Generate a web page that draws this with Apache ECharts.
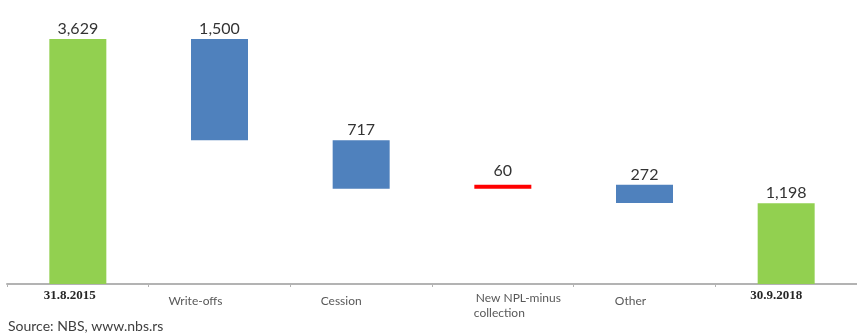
<!DOCTYPE html>
<html>
<head>
<meta charset="utf-8">
<script src="https://cdn.jsdelivr.net/npm/echarts@6/dist/echarts.min.js"></script>
<style>
  html, body { margin: 0; padding: 0; background: #fff; }
  #chart { width: 857px; height: 335px; }
</style>
</head>
<body>
<div id="chart"></div>
<script>
// NPL stock bridge, RSD bn
const categories = ['31.8.2015', 'Write-offs', 'Cession', 'New NPL-minus collection', 'Other', '30.9.2018'];
const changes = [3629, -1500, -717, 60, -272, 1198];
const kinds = ['total', 'decrease', 'decrease', 'increase', 'decrease', 'total'];
const sourceNote = 'Source: NBS, www.nbs.rs';

const colors = { total: '#92d050', decrease: '#4f81bd', increase: '#ff0000' };

// invisible base + visible step, built as a running total
const baseData = [];
const stepData = [];
let running = 0;
changes.forEach((v, i) => {
  const kind = kinds[i];
  if (kind === 'total') {
    baseData.push(0);
    stepData.push({ value: v, label: v, itemStyle: { color: colors.total } });
    running = v;
  } else if (kind === 'decrease') {
    running += v;
    baseData.push(running);
    stepData.push({ value: -v, label: -v, itemStyle: { color: colors.decrease } });
  } else {
    baseData.push(running);
    stepData.push({ value: v, label: v, itemStyle: { color: colors.increase },
      labelCfg: { distance: 6 } });
    running += v;
  }
});

const labelKeys = ['d1', 'w', 'c', 'n', 'o', 'd2'];
const chart = echarts.init(document.getElementById('chart'), null, { renderer: 'canvas' });

chart.setOption({
  backgroundColor: '#ffffff',
  animation: false,
  title: {
    text: sourceNote,
    left: 3,
    top: 314,
    textStyle: { fontFamily: 'Lato', fontSize: 14, fontWeight: 'normal', color: '#404040' }
  },
  grid: { left: 7, right: -7, top: 14, height: 270, containLabel: false },
  xAxis: {
    type: 'category',
    data: categories,
    axisLine: { lineStyle: { color: '#b3b3b3', width: 2 } },
    axisTick: { show: true, length: 3, lineStyle: { color: '#b3b3b3' } },
    axisLabel: {
      interval: 0,
      margin: 5,
      formatter: (value, idx) => {
        const k = labelKeys[idx];
        if (k === 'n') return '{n1|New NPL-minus}\n{n2|collection}';
        return '{' + k + '|' + value + '}';
      },
      rich: {
        d1: { fontFamily: 'Liberation Serif', fontWeight: 'bold', fontSize: 13, color: '#262626', padding: [0, 16, 0, 0] },
        d2: { fontFamily: 'Liberation Serif', fontWeight: 'bold', fontSize: 13, color: '#262626', padding: [0, 20, 0, 0] },
        w: { fontFamily: 'Lato', fontSize: 12, color: '#595959', padding: [6, 48, 0, 0] },
        c: { fontFamily: 'Lato', fontSize: 12, color: '#595959', padding: [6, 40, 0, 0] },
        o: { fontFamily: 'Lato', fontSize: 12, color: '#595959', padding: [6, 28, 0, 0] },
        n1: { fontFamily: 'Lato', fontSize: 12, color: '#595959', lineHeight: 14, padding: [4, 0, 0, 31] },
        n2: { fontFamily: 'Lato', fontSize: 12, color: '#595959', lineHeight: 14, padding: [6, 7, 0, 0] }
      }
    }
  },
  yAxis: {
    type: 'value',
    min: 0,
    max: 4000,
    show: false,
    splitLine: { show: false }
  },
  series: [
    {
      type: 'bar',
      stack: 'wf',
      barWidth: 57,
      silent: true,
      itemStyle: { color: 'transparent' },
      data: baseData
    },
    {
      type: 'bar',
      stack: 'wf',
      barWidth: 57,
      data: stepData.map(d => ({
        value: d.value,
        itemStyle: d.itemStyle,
        label: Object.assign({
          show: true,
          position: 'top',
          distance: 2,
          fontFamily: 'Lato',
          fontSize: 16,
          color: '#333333',
          formatter: () => d.label.toLocaleString('en-US')
        }, d.labelCfg || {})
      }))
    }
  ]
});
</script>
</body>
</html>
